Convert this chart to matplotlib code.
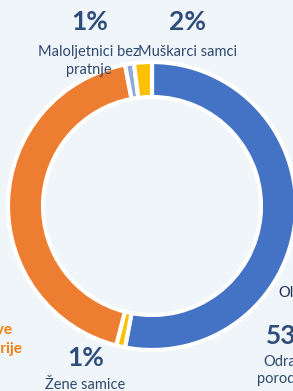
import matplotlib.pyplot as plt

# donut segments, clockwise from the top
kategorije = ["Odrasle porodice", "Žene samice", "Ranjive kategorije",
              "Maloljetnici bez pratnje", "Muškarci samci"]
udjeli = [53, 1, 43, 1, 2]
boje = ["#4472C4", "#FFC000", "#ED7D31", "#8FAADC", "#FFC000"]

pozadina = "#F0F5FA"
tamno = "#2E4D7B"
tekst = "#2F4A6E"

fig = plt.figure(figsize=(2.93, 3.91), dpi=100, facecolor=pozadina)
ax = fig.add_axes([0, 0, 1, 1])
ax.set_facecolor(pozadina)

# work in pixel-like units: x 0..293, y 0..391 (y up)
ax.pie(udjeli, colors=boje, startangle=90, counterclock=False,
       center=(152, 185), radius=144,
       wedgeprops=dict(width=35, edgecolor="white", linewidth=3))
ax.set_xlim(0, 293)
ax.set_ylim(0, 391)
ax.set_aspect("equal")
ax.axis("off")

fnt = "Lato"

# Maloljetnici bez pratnje
ax.text(90, 391 - 22, "1%", ha="center", va="center", fontsize=19,
        fontweight="bold", color=tamno, family=fnt)
ax.text(89, 391 - 52, "Maloljetnici bez", ha="center", va="center",
        fontsize=10.5, color=tekst, family=fnt)
ax.text(89, 391 - 70, "pratnje", ha="center", va="center",
        fontsize=10.5, color=tekst, family=fnt)

# Muskarci samci
ax.text(188, 391 - 22, "2%", ha="center", va="center", fontsize=19,
        fontweight="bold", color=tamno, family=fnt)
ax.text(188, 391 - 52, "Muškarci samci", ha="center", va="center",
        fontsize=10.5, color=tekst, family=fnt)

# Zene samice
ax.text(86, 391 - 358, "1%", ha="center", va="center", fontsize=19,
        fontweight="bold", color=tamno, family=fnt)
ax.text(85, 391 - 385, "Žene samice", ha="center", va="center",
        fontsize=10.5, color=tekst, family=fnt)

# Ranjive kategorije (cut off on the left, as in the source)
ax.text(-12, 391 - 330, "Ranjive", ha="center", va="center", fontsize=11,
        fontweight="bold", color="#F07E10", family=fnt)
ax.text(-12, 391 - 349, "kategorije", ha="center", va="center", fontsize=11,
        fontweight="bold", color="#F07E10", family=fnt)

# Odrasle porodice (cut off on the right, as in the source)
ax.text(278, 391 - 293, "Ol", ha="left", va="center", fontsize=10.5,
        color="#1F2F4F", family=fnt)
ax.text(266, 391 - 336, "53%", ha="left", va="center", fontsize=19,
        fontweight="bold", color=tamno, family=fnt)
ax.text(263, 391 - 362, "Odrasle", ha="left", va="center", fontsize=10.5,
        color=tekst, family=fnt)
ax.text(257, 391 - 379, "porodice", ha="left", va="center", fontsize=10.5,
        color=tekst, family=fnt)

fig.savefig("out.png", dpi=100, facecolor=pozadina)
